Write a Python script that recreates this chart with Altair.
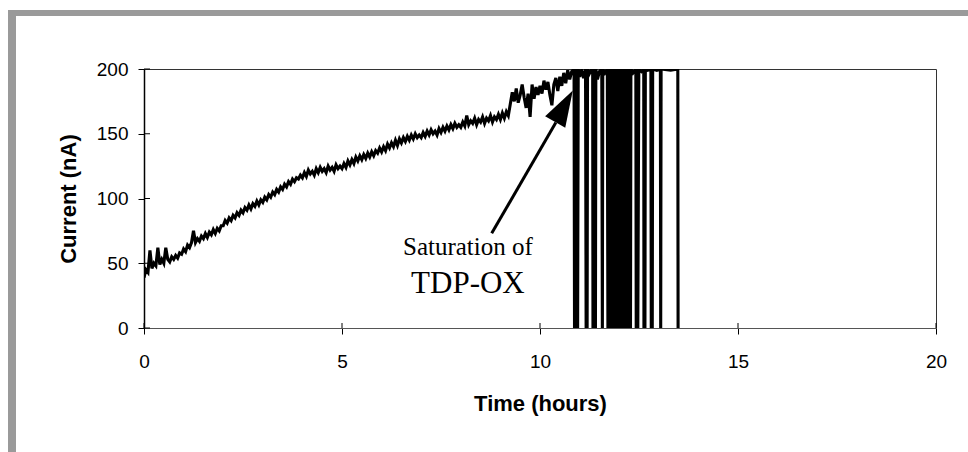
import altair as alt
import pandas as pd

# ---------------- data ----------------
x_ticks = [0, 5, 10, 15, 20]
y_ticks = [0, 50, 100, 150, 200]

rise_step = 0.05  # hours between samples of the rising part
rise_values = [
    39, 45, 43, 60, 46, 50, 48, 62, 49, 53, 50, 62, 53, 51, 55, 53, 56, 54, 58, 57,
    61, 59, 64, 62, 66, 75, 66, 69, 67, 71, 69, 73, 70, 74, 72, 76, 73, 77, 75, 79,
    79, 83, 81, 85, 83, 87, 85, 89, 87, 91, 89, 93, 91, 95, 92, 96, 94, 98, 95, 99,
    97, 101, 99, 103, 101, 105, 103, 107, 105, 109, 107, 111, 109, 113, 111, 115, 113, 116, 115, 118,
    116, 120, 117, 122, 119, 121, 118, 123, 120, 124, 121, 123, 120, 125, 122, 124, 121, 126, 123, 125,
    123, 127, 124, 129, 126, 130, 127, 132, 129, 133, 130, 134, 131, 135, 132, 136, 133, 137, 135, 139,
    136, 140, 137, 142, 139, 143, 140, 145, 141, 146, 143, 147, 144, 148, 145, 149, 146, 150, 147, 149,
    147, 151, 148, 152, 149, 153, 150, 152, 149, 154, 151, 155, 152, 156, 153, 157, 154, 158, 155, 157,
    155, 159, 156, 164, 157, 160, 158, 162, 157, 161, 159, 163, 158, 162, 160, 164, 159, 163, 161, 165,
    161, 166, 162, 167, 164, 173, 182, 175, 185, 174, 180, 188, 178, 170, 181, 163, 188, 177, 186, 180,
    187, 181, 191, 184, 190, 180, 172, 188, 193, 183, 194, 187, 197, 189, 199, 192, 198,
]
rise_times = [round(i * rise_step, 2) for i in range(len(rise_values))]

spike_times = [
    10.86,
    10.872, 10.895, 10.915, 10.935, 10.95, 10.965,
    11.00, 11.05, 11.10, 11.15,
    11.165, 11.18, 11.19, 11.20,
    11.24, 11.29, 11.33,
    11.338, 11.355, 11.37, 11.385, 11.40, 11.41,
    11.45, 11.50, 11.56,
    11.575, 11.585,
    11.64, 11.70,
    11.715, 11.74, 11.77, 11.80, 11.83, 11.86, 11.89, 11.92,
    11.95, 11.98, 12.01, 12.04, 12.07, 12.10, 12.13, 12.16,
    12.18, 12.20, 12.22, 12.235,
    12.25,
    12.262, 12.275, 12.285, 12.295,
    12.35, 12.42,
    12.43, 12.45, 12.47, 12.495,
    12.56, 12.62,
    12.625, 12.64, 12.65, 12.66,
    12.72, 12.80,
    12.81, 12.825, 12.835, 12.845,
    12.95, 13.04,
    13.048, 13.058,
    13.30, 13.48,
    13.487,
]
spike_values = [
    200,
    0, 200, 0, 200, 0, 200,
    194, 199, 193, 200,
    0, 200, 0, 200,
    196, 199, 200,
    0, 200, 0, 200, 0, 200,
    192, 198, 200,
    0, 200,
    197, 200,
    0, 200, 0, 200, 0, 200, 0, 200,
    0, 200, 0, 200, 0, 200, 0, 200,
    0, 200, 0, 200,
    198,
    0, 200, 0, 200,
    197, 200,
    0, 200, 0, 200,
    198, 200,
    0, 200, 0, 200,
    199, 200,
    0, 200, 0, 200,
    199, 200,
    0, 200,
    199, 200,
    0,
]

times = rise_times + spike_times
values = rise_values + spike_values
df = pd.DataFrame({"t": times, "v": values})

# annotation anchors (data coordinates)
label_texts = ["Saturation of", "TDP-OX"]
label_t = [8.18, 8.18]
label_v = [56.4, 26.8]
arrow_tail = (8.78, 73.1)
arrow_base = (10.40, 158.7)
arrow_head = (10.606, 171.2)

# ---------------- chart ----------------
x_scale = alt.Scale(domain=[0, 20], nice=False, zero=False)
y_scale = alt.Scale(domain=[0, 200], nice=False)

x_axis = alt.Axis(
    values=x_ticks, grid=False, tickSize=6, tickColor="black", tickWidth=1,
    domainColor="#555555", domainWidth=1,
    labelFont="Liberation Sans", labelFontSize=19, labelColor="black",
    labelPadding=18, labelFlush=False, labelOverlap=False,
    titleFont="Liberation Sans", titleFontSize=22, titleFontWeight="bold",
    titleColor="black", titleX=396, titleY=82, titleAlign="center",
    titleBaseline="alphabetic",
)
y_axis = alt.Axis(
    values=y_ticks, grid=False, tickSize=6, tickColor="black", tickWidth=1,
    domainColor="black", domainWidth=1.5,
    labelFont="Liberation Sans", labelFontSize=19, labelColor="black",
    labelPadding=10, labelFlush=False, labelOverlap=False,
    titleFont="Liberation Sans", titleFontSize=22, titleFontWeight="bold",
    titleColor="black", titleX=-69, titleY=129.5, titleAngle=270,
    titleAlign="center", titleBaseline="alphabetic",
)

xenc = alt.X("t:Q", scale=x_scale, axis=x_axis, title="Time (hours)")
yenc = alt.Y("v:Q", scale=y_scale, axis=y_axis, title="Current (nA)")

one = pd.DataFrame({"k": [0]})
left_band = alt.Chart(one).mark_rect(color="#9a9a9a").encode(
    x=alt.value(-136), x2=alt.value(-128), y=alt.value(-59), y2=alt.value(383)
)
top_band = alt.Chart(one).mark_rect(color="#9a9a9a").encode(
    x=alt.value(-136), x2=alt.value(824), y=alt.value(-59), y2=alt.value(-53)
)

line = alt.Chart(df).mark_line(color="black", strokeWidth=3.1, clip=True).encode(
    x=xenc, y=yenc
)

ytick_in = alt.Chart(pd.DataFrame({"v": y_ticks})).mark_rule(
    color="black", strokeWidth=1
).encode(y=yenc, x=alt.value(0), x2=alt.value(6))
xtick_in = alt.Chart(pd.DataFrame({"t": x_ticks})).mark_rule(
    color="black", strokeWidth=1
).encode(x=xenc, y=alt.value(259), y2=alt.value(254))

arrow_df = pd.DataFrame({
    "t": [arrow_tail[0]], "v": [arrow_tail[1]],
    "t2": [arrow_base[0]], "v2": [arrow_base[1]],
})
arrow_line = alt.Chart(arrow_df).mark_rule(color="black", strokeWidth=3).encode(
    x=xenc, y=yenc, x2="t2:Q", y2="v2:Q"
)
head_df = pd.DataFrame({"t": [arrow_head[0]], "v": [arrow_head[1]]})
arrow_tip = alt.Chart(head_df).mark_point(
    shape="M0,-1L0.64,1L-0.64,1Z", size=1296, angle=29.3,
    filled=True, color="black", opacity=1, strokeWidth=0,
).encode(x=xenc, y=yenc)

lab_df = pd.DataFrame({"t": label_t, "v": label_v, "label": label_texts})
text1 = alt.Chart(lab_df.iloc[[0]]).mark_text(
    font="Liberation Serif", fontSize=25, color="black",
    align="center", baseline="alphabetic",
).encode(x=xenc, y=yenc, text="label:N")
text2 = alt.Chart(lab_df.iloc[[1]]).mark_text(
    font="Liberation Serif", fontSize=31, color="black",
    align="center", baseline="alphabetic",
).encode(x=xenc, y=yenc, text="label:N")

chart = alt.layer(
    left_band, top_band, line, ytick_in, xtick_in, arrow_line, arrow_tip, text1, text2
).properties(
    width=792, height=259,
    autosize=alt.AutoSizeParams(type="none"),
    padding={"left": 144, "top": 69, "right": 32, "bottom": 124},
    background="white",
).configure_view(stroke="#333333", strokeWidth=1)

chart.save("out.html", embed_options={"renderer": "svg", "actions": False})
